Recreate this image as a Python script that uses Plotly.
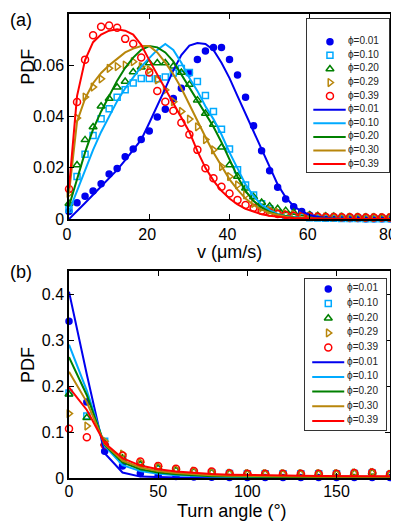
import plotly.graph_objects as go

# ---- panel (a): speed PDFs ----
v = [0, 2, 4, 6, 8, 10, 12, 14, 16, 18, 20, 22, 24, 26, 28, 30, 32, 34, 36, 38, 40,
     42, 44, 46, 48, 50, 52, 54, 56, 58, 60, 62, 64, 66, 68, 70, 72, 74, 76, 78, 80]

pdf_v_001 = [0.003, 0.0064, 0.0089, 0.011, 0.0138, 0.0176, 0.0197, 0.0243, 0.0273, 0.031, 0.0344,
             0.0398, 0.0428, 0.047, 0.051, 0.057, 0.0623, 0.0656, 0.0669, 0.0669, 0.0623,
             0.0562, 0.0475, 0.0364, 0.0267, 0.0189, 0.0124, 0.0078, 0.0048, 0.003, 0.0015,
             0.0009, 0.0006, 0.0004, 0.0003, 0.0002, 0.0002, 0.0001, 0.0001, 0.0001, 0.0001]
pdf_v_010 = [0.0038, 0.0166, 0.0253, 0.0326, 0.0391, 0.043, 0.0475, 0.0505, 0.0531, 0.0548, 0.0548,
             0.0547, 0.0554, 0.057, 0.0587, 0.0572, 0.0537, 0.0482, 0.042, 0.035, 0.0273,
             0.0192, 0.0133, 0.0094, 0.006, 0.004, 0.0025, 0.0015, 0.001, 0.0007, 0.0005,
             0.0004, 0.0003, 0.0003, 0.0002, 0.0002, 0.0002, 0.0001, 0.0001, 0.0001, 0.0001]
pdf_v_020 = [0.0061, 0.0211, 0.0309, 0.0359, 0.044, 0.047, 0.0514, 0.0537, 0.0574, 0.0592, 0.0609,
             0.0609, 0.0609, 0.0596, 0.0572, 0.0525, 0.0464, 0.0412, 0.0369, 0.028, 0.0211,
             0.0166, 0.012, 0.0086, 0.0065, 0.005, 0.004, 0.0033, 0.0026, 0.002, 0.0016,
             0.0013, 0.0011, 0.001, 0.0009, 0.0008, 0.0008, 0.0007, 0.0007, 0.0006, 0.0006]
pdf_v_029 = [0.010, 0.0394, 0.0476, 0.0515, 0.0547, 0.0588, 0.0595, 0.0601, 0.0614, 0.0595, 0.0582,
             0.0543, 0.0504, 0.0458, 0.042, 0.039, 0.036, 0.031, 0.027, 0.0205, 0.0166,
             0.0133, 0.0094, 0.0061, 0.0045, 0.0035, 0.0027, 0.0021, 0.0017, 0.0014, 0.0012,
             0.001, 0.0009, 0.0008, 0.0008, 0.0007, 0.0007, 0.0006, 0.0006, 0.0006, 0.0006]
pdf_v_039 = [0.0117, 0.0457, 0.0622, 0.0717, 0.075, 0.0755, 0.0746, 0.0703, 0.0684, 0.063, 0.0572,
             0.050, 0.0458, 0.0423, 0.0376, 0.033, 0.027, 0.0198, 0.0159, 0.0126, 0.010,
             0.0074, 0.0055, 0.0044, 0.0033, 0.0026, 0.002, 0.0016, 0.0013, 0.0011, 0.001,
             0.0009, 0.0008, 0.0008, 0.0007, 0.0007, 0.0007, 0.0006, 0.0006, 0.0006, 0.0006]

fit_v_001 = [0, 0.003, 0.0063, 0.0095, 0.0127, 0.016, 0.0192, 0.023, 0.027, 0.031, 0.0375,
             0.044, 0.051, 0.058, 0.064, 0.0677, 0.0687, 0.0683, 0.066, 0.061, 0.055,
             0.048, 0.041, 0.034, 0.027, 0.020, 0.0135, 0.0085, 0.005, 0.003, 0.0016,
             0.0008, 0.0004, 0.0002, 0.0001, 0.0001, 0, 0, 0, 0, 0]
fit_v_010 = [0.003, 0.011, 0.019, 0.027, 0.034, 0.040, 0.046, 0.051, 0.0555, 0.0595, 0.0628,
             0.066, 0.0683, 0.066, 0.061, 0.055, 0.050, 0.044, 0.039, 0.033, 0.026,
             0.020, 0.0135, 0.009, 0.0055, 0.0035, 0.002, 0.0012, 0.0007, 0.0004, 0.0002,
             0.0001, 0.0001, 0, 0, 0, 0, 0, 0, 0, 0]
fit_v_020 = [0.005, 0.016, 0.026, 0.035, 0.042, 0.048, 0.054, 0.059, 0.063, 0.066, 0.0675,
             0.067, 0.065, 0.0615, 0.0565, 0.051, 0.046, 0.041, 0.036, 0.030, 0.023,
             0.0165, 0.011, 0.007, 0.0045, 0.0028, 0.0017, 0.001, 0.0006, 0.0003, 0.0002,
             0.0001, 0, 0, 0, 0, 0, 0, 0, 0, 0]
fit_v_030 = [0.010, 0.038, 0.047, 0.053, 0.057, 0.060, 0.0625, 0.065, 0.0665, 0.0675, 0.0675,
             0.065, 0.061, 0.0565, 0.051, 0.0445, 0.038, 0.032, 0.026, 0.0205, 0.0155,
             0.0115, 0.008, 0.0055, 0.0037, 0.0024, 0.0015, 0.0009, 0.0005, 0.0003, 0.0002,
             0.0001, 0, 0, 0, 0, 0, 0, 0, 0, 0]
fit_v_039 = [0.012, 0.048, 0.062, 0.069, 0.072, 0.0735, 0.074, 0.0735, 0.072, 0.068, 0.062,
             0.0565, 0.051, 0.0455, 0.040, 0.034, 0.0265, 0.020, 0.015, 0.011, 0.008,
             0.0057, 0.004, 0.0028, 0.0019, 0.0013, 0.0009, 0.0006, 0.0004, 0.0003, 0.0002,
             0.0001, 0.0001, 0, 0, 0, 0, 0, 0, 0, 0]

# ---- panel (b): turn angle PDFs ----
ang = [0, 10, 20, 30, 40, 50, 60, 70, 80, 90, 100, 110, 120, 130, 140, 150, 160, 170, 180]

pdf_a_001 = [0.341, 0.165, 0.058, 0.026, 0.010, 0.005, 0.003, 0.002, 0.0015, 0.0012, 0.001,
             0.001, 0.001, 0.001, 0.001, 0.001, 0.001, 0.001, 0.001]
pdf_a_010 = [0.185, 0.135, 0.080, 0.040, 0.027, 0.019, 0.015, 0.012, 0.011, 0.010, 0.0095,
             0.0095, 0.0095, 0.0095, 0.0095, 0.0095, 0.010, 0.011, 0.007]
pdf_a_020 = [0.182, 0.131, 0.075, 0.043, 0.030, 0.022, 0.017, 0.014, 0.012, 0.0105, 0.0095,
             0.0095, 0.0095, 0.0095, 0.0095, 0.0095, 0.011, 0.012, 0.008]
pdf_a_029 = [0.140, 0.113, 0.080, 0.052, 0.034, 0.025, 0.019, 0.015, 0.013, 0.0105, 0.0095,
             0.0095, 0.0095, 0.0095, 0.0095, 0.0095, 0.011, 0.012, 0.008]
pdf_a_039 = [0.107, 0.0886, 0.072, 0.049, 0.036, 0.026, 0.020, 0.015, 0.014, 0.0103, 0.0095,
             0.0095, 0.0095, 0.0095, 0.0095, 0.0095, 0.011, 0.012, 0.008]

fit_a_001 = [0.405, 0.225, 0.054, 0.012, 0.003, 0.0015, 0.001, 0.0008, 0.0006, 0.0005, 0.0004,
             0.0004, 0.0003, 0.0003, 0.0003, 0.0003, 0.0003, 0.0003, 0.0003]
fit_a_010 = [0.29, 0.19, 0.070, 0.028, 0.015, 0.009, 0.006, 0.004, 0.003, 0.0023, 0.0019,
             0.0016, 0.0014, 0.0013, 0.0012, 0.0011, 0.001, 0.001, 0.001]
fit_a_020 = [0.263, 0.18, 0.072, 0.034, 0.019, 0.012, 0.008, 0.0055, 0.004, 0.0033, 0.0028,
             0.0024, 0.0021, 0.0019, 0.0017, 0.0016, 0.0015, 0.0015, 0.0015]
fit_a_030 = [0.231, 0.165, 0.074, 0.038, 0.023, 0.015, 0.011, 0.008, 0.006, 0.005, 0.0042,
             0.0037, 0.0033, 0.003, 0.0028, 0.0027, 0.0026, 0.0025, 0.0025]
fit_a_039 = [0.197, 0.148, 0.076, 0.043, 0.027, 0.019, 0.014, 0.011, 0.0085, 0.0072, 0.0063,
             0.0056, 0.0051, 0.0047, 0.0044, 0.0042, 0.0041, 0.004, 0.004]

data_labels = ["ϕ=0.01", "ϕ=0.10", "ϕ=0.20", "ϕ=0.29", "ϕ=0.39"]
fit_labels = ["ϕ=0.01", "ϕ=0.10", "ϕ=0.20", "ϕ=0.30", "ϕ=0.39"]

colors = ["#0000ee", "#00aaff", "#008000", "#b8860b", "#ff0000"]
symbols = ["circle", "square-open", "triangle-up-open", "triangle-right-open", "circle-open"]
sizes = [6, 6, 7, 7, 7]

FONT = "Liberation Sans, Arial, sans-serif"

fig = go.Figure()

panels = [
    ("x", "y", v, [pdf_v_001, pdf_v_010, pdf_v_020, pdf_v_029, pdf_v_039],
     [fit_v_001, fit_v_010, fit_v_020, fit_v_030, fit_v_039]),
    ("x2", "y2", ang, [pdf_a_001, pdf_a_010, pdf_a_020, pdf_a_029, pdf_a_039],
     [fit_a_001, fit_a_010, fit_a_020, fit_a_030, fit_a_039]),
]

for xa, ya, xs, meas, fits in panels:
    for i, ys in enumerate(meas):
        fig.add_trace(go.Scatter(
            x=xs, y=ys, mode="markers", xaxis=xa, yaxis=ya, cliponaxis=False,
            marker=dict(symbol=symbols[i], size=sizes[i], color=colors[i],
                        line=dict(color=colors[i], width=1.5)),
            showlegend=False))
    for i, ys in enumerate(fits):
        fig.add_trace(go.Scatter(
            x=xs, y=ys, mode="lines", xaxis=xa, yaxis=ya,
            line=dict(color=colors[i], width=2), showlegend=False))

# hand-made inset legends (matlab style, compact rows)
legends = [
    # axes, marker x, line x0, x1, text x
    ("x3", "y3", 0.28, 0.077, 0.472, 0.50),
    ("x4", "y4", 0.288, 0.09, 0.485, 0.52),
]
for xa, ya, mk_x, l0, l1, tx in legends:
    rows = list(range(len(data_labels) + len(fit_labels)))
    for i in range(len(data_labels)):
        fig.add_trace(go.Scatter(
            x=[mk_x], y=[rows[i]], mode="markers", xaxis=xa, yaxis=ya,
            marker=dict(symbol=symbols[i], size=sizes[i], color=colors[i],
                        line=dict(color=colors[i], width=1.5)),
            showlegend=False, hoverinfo="skip"))
    for i in range(len(fit_labels)):
        r = rows[len(data_labels) + i]
        fig.add_trace(go.Scatter(
            x=[l0, l1], y=[r, r], mode="lines", xaxis=xa, yaxis=ya,
            line=dict(color=colors[i], width=2), showlegend=False, hoverinfo="skip"))
    fig.add_trace(go.Scatter(
        x=[tx] * len(rows), y=rows, mode="text", text=data_labels + fit_labels,
        textposition="middle right", xaxis=xa, yaxis=ya,
        textfont=dict(size=10, color="#222", family=FONT),
        showlegend=False, hoverinfo="skip"))

ax = dict(showline=True, mirror="ticks", ticks="inside", ticklen=5, tickwidth=1,
          linecolor="black", linewidth=1.5, tickcolor="black", showgrid=False,
          zeroline=False, automargin=False,
          tickfont=dict(size=16, color="black", family=FONT))
leg_ax = dict(showline=True, mirror=True, linecolor="#333", linewidth=1, ticks="",
              showticklabels=False, showgrid=False, zeroline=False, fixedrange=True,
              automargin=False)

# the page body has an 8px margin, so the figure sits at (8, 8)
fig.update_layout(
    width=391, height=514,
    margin=dict(l=61, r=9, t=6, b=44),
    paper_bgcolor="white", plot_bgcolor="white",
    font=dict(family=FONT, color="black"),
    showlegend=False,
    xaxis=dict(ax, domain=[0, 1], range=[0, 80], dtick=20, anchor="y", ticklabelshift=-2),
    yaxis=dict(ax, domain=[0.558, 1], range=[0, 0.08], dtick=0.02, anchor="x"),
    xaxis2=dict(ax, domain=[0, 1], range=[0, 180], dtick=50, anchor="y2",
                ticklabelstandoff=-2),
    yaxis2=dict(ax, domain=[0, 0.446], range=[0, 0.45], dtick=0.1, anchor="x2"),
    xaxis3=dict(leg_ax, domain=[0.7414, 0.9969], range=[0, 1], anchor="y3"),
    yaxis3=dict(leg_ax, domain=[0.6595, 0.9892], range=[9.58, -1.67], anchor="x3"),
    xaxis4=dict(leg_ax, domain=[0.735, 0.9875], range=[0, 1], anchor="y4"),
    yaxis4=dict(leg_ax, domain=[0.1034, 0.4289], range=[9.62, -0.68], anchor="x4"),
    annotations=[
        dict(text="(a)", x=-0.19, y=1.0129, xref="paper", yref="paper",
             xanchor="left", yanchor="top", showarrow=False, font=dict(size=18)),
        dict(text="(b)", x=-0.19, y=0.444, xref="paper", yref="paper",
             xanchor="left", yanchor="middle", showarrow=False, font=dict(size=18)),
        dict(text="PDF", x=-0.128, y=0.886, xref="paper", yref="paper", textangle=-90,
             xanchor="center", yanchor="middle", showarrow=False, font=dict(size=18)),
        dict(text="PDF", x=-0.128, y=0.2435, xref="paper", yref="paper", textangle=-90,
             xanchor="center", yanchor="middle", showarrow=False, font=dict(size=18)),
        dict(text="v (μm/s)", x=0.5, y=0.487, xref="paper", yref="paper",
             xanchor="center", yanchor="middle", showarrow=False, font=dict(size=18)),
        dict(text="Turn angle (°)", x=0.508, y=-0.071, xref="paper", yref="paper",
             xanchor="center", yanchor="middle", showarrow=False, font=dict(size=18)),
    ],
)

fig.write_html("out.html")
